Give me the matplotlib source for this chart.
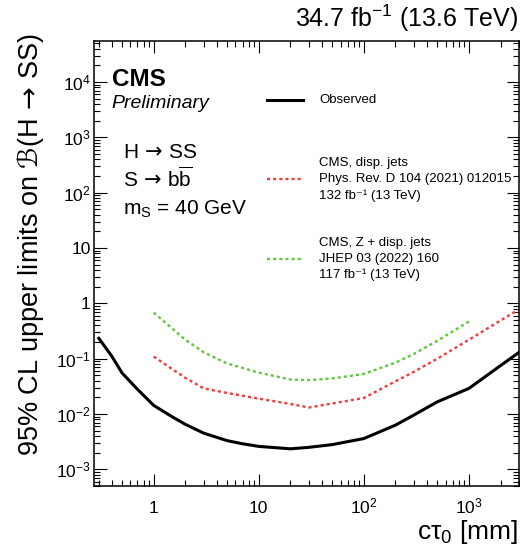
import numpy as np
import matplotlib
matplotlib.use('Agg')
import matplotlib.pyplot as plt
from matplotlib.ticker import FixedLocator, FixedFormatter, LogLocator, NullFormatter

plt.rcParams['font.family'] = ['Liberation Sans', 'DejaVu Sans']
plt.rcParams['mathtext.fontset'] = 'custom'
plt.rcParams['mathtext.rm'] = 'Liberation Sans'
plt.rcParams['mathtext.it'] = 'Liberation Sans:italic'
plt.rcParams['mathtext.bf'] = 'Liberation Sans:bold'
plt.rcParams['mathtext.sf'] = 'DejaVu Sans'   # wide arrow and script B

# observed limit (this analysis)
ctau_obs = [0.3, 0.4, 0.5, 0.7, 1, 1.5, 2, 3, 5, 7, 10, 20, 30, 50,
            100, 200, 300, 500, 1000, 2000, 3000]
limit_obs = [0.234, 0.11, 0.055, 0.028, 0.0143, 0.0089, 0.0065, 0.0045,
             0.0033, 0.0029, 0.0026, 0.00235, 0.0025, 0.0028, 0.0036,
             0.0063, 0.0096, 0.0166, 0.029, 0.075, 0.13]

# CMS displaced jets, PRD 104 (2021) 012015
ctau_dj = [1, 2, 3, 5, 10, 20, 30, 50, 100, 200, 300, 500, 1000, 2000, 3000]
limit_dj = [0.109, 0.045, 0.029, 0.024, 0.019, 0.0152, 0.0131, 0.0155,
            0.0195, 0.039, 0.058, 0.10, 0.22, 0.49, 0.78]

# CMS Z + displaced jets, JHEP 03 (2022) 160
ctau_zdj = [1, 2, 3, 5, 10, 20, 30, 50, 100, 200, 300, 500, 1000]
limit_zdj = [0.68, 0.22, 0.13, 0.082, 0.056, 0.042, 0.041, 0.044, 0.053,
             0.085, 0.122, 0.21, 0.47]

xtick_vals = [1, 10, 100, 1000]
xtick_labels = ['1', '10', r'10$^{2}$', r'10$^{3}$']
ytick_vals = [1e-3, 1e-2, 1e-1, 1, 10, 1e2, 1e3, 1e4]
ytick_labels = [r'10$^{-3}$', r'10$^{-2}$', r'10$^{-1}$', '1', '10',
                r'10$^{2}$', r'10$^{3}$', r'10$^{4}$']

label_obs = ' \nObserved\n '
label_dj = 'CMS, disp. jets\nPhys. Rev. D 104 (2021) 012015\n132 fb⁻¹ (13 TeV)'
label_zdj = 'CMS, Z + disp. jets\nJHEP 03 (2022) 160\n117 fb⁻¹ (13 TeV)'

ARROW = r'$\,\mathsf{\rightarrow}\,$'

fig = plt.figure(figsize=(5.2, 5.46), dpi=100)
ax = fig.add_axes([94 / 520, 1 - 486 / 546, 425 / 520, 445.3 / 546])

ax.plot(ctau_obs, limit_obs, color='black', lw=2.2, label=label_obs)
ax.plot(ctau_dj, limit_dj, color='#f03c3c', lw=1.7, ls=(0, (1.3, 1.3)),
        label=label_dj)
ax.plot(ctau_zdj, limit_zdj, color='#5fc83c', lw=1.7, ls=(0, (1.3, 1.3)),
        label=label_zdj)

ax.set_xscale('log')
ax.set_yscale('log')
ax.set_xlim(0.27, 3000)
ax.set_ylim(5.0e-4, 5.6e4)

ax.xaxis.set_major_locator(FixedLocator(xtick_vals))
ax.xaxis.set_major_formatter(FixedFormatter(xtick_labels))
ax.yaxis.set_major_locator(FixedLocator(ytick_vals))
ax.yaxis.set_major_formatter(FixedFormatter(ytick_labels))
for axis in (ax.xaxis, ax.yaxis):
    axis.set_minor_locator(LogLocator(base=10, subs=np.arange(2, 10), numticks=100))
    axis.set_minor_formatter(NullFormatter())

ax.tick_params(which='both', direction='in', top=True, right=True,
               width=0.8, labelsize=12.5)
ax.tick_params(axis='x', which='major', length=8.5, pad=19.5)
ax.tick_params(axis='x', which='minor', length=4.3)
ax.tick_params(axis='y', which='major', length=9, pad=2.5)
ax.tick_params(axis='y', which='minor', length=4.5)
plt.setp(ax.get_xticklabels(), va='baseline')
for sp in ax.spines.values():
    sp.set_linewidth(1.1)

leg = ax.legend(loc='upper left', bbox_to_anchor=(266.7 / 520, 1 - 78.2 / 546),
                bbox_transform=fig.transFigure, frameon=False, fontsize=9.5,
                handlelength=2.78, handletextpad=1.21, labelspacing=2.69,
                borderpad=0, borderaxespad=0)
for t in leg.get_texts():
    t.set_linespacing(1.42)

# CMS labels
fig.text(111.7 / 520, 1 - 86 / 546, 'CMS', fontsize=17.5, fontweight='bold',
         va='baseline')
fig.text(111.7 / 520, 1 - 108.3 / 546, 'Preliminary', fontsize=14,
         style='italic', va='baseline')
fig.text(123.3 / 520, 1 - 158.3 / 546, 'H' + ARROW + 'SS', fontsize=15,
         va='baseline')
fig.text(123.3 / 520, 1 - 186.5 / 546, 'S' + ARROW + r'b$\overline{\mathrm{b}}$',
         fontsize=15, va='baseline')
fig.text(123.3 / 520, 1 - 215 / 546, r'm$_{\mathrm{S}}$ = 40 GeV',
         fontsize=15, va='baseline')

fig.text(518 / 520, 1 - 27.5 / 546, r'34.7 fb$^{-1}$ (13.6 TeV)',
         fontsize=18, va='baseline', ha='right')
fig.text(30.4 / 520, 1 - 33 / 546,
         r'95% CL upper limits on $\mathsf{ℬ}$(H' + ARROW + 'SS)',
         rotation=90, fontsize=19.5, ha='center', va='top')
fig.text(518 / 520, 1 - 539 / 546, r'cτ$_{0}$ [mm]', fontsize=19,
         va='baseline', ha='right')

fig.savefig('out.png', dpi=100)
